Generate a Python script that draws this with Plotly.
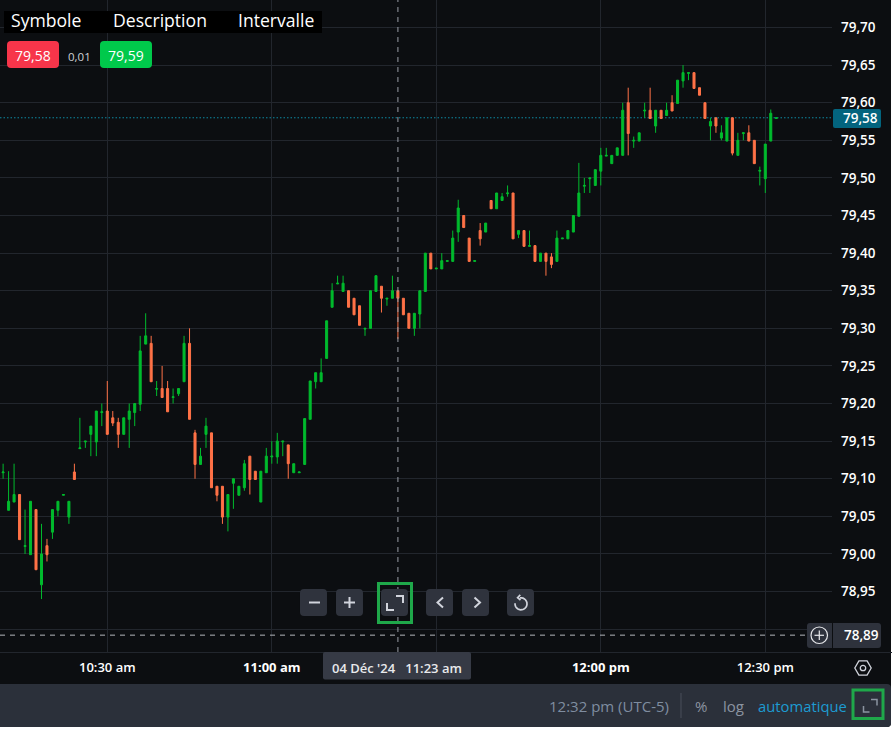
import numpy as np
import pandas as pd
import plotly.graph_objects as go

W, H = 892, 733

opens = [79.108,79.058,79.069,79.079,79.010,78.999,79.059,78.959,79.011,79.029,79.058,79.078,79.049,79.109,79.140,79.149,79.159,79.149,79.188,79.190,
         79.181,79.175,79.159,79.179,79.188,79.199,79.279,79.280,79.219,79.220,79.220,79.208,79.213,79.229,79.280,79.161,79.119,79.159,79.161,79.090,
         79.090,79.049,79.094,79.078,79.088,79.130,79.110,79.069,79.108,79.129,79.129,79.149,79.145,79.108,79.108,79.119,79.179,79.229,79.229,79.260,
         79.328,79.359,79.349,79.350,79.340,79.330,79.299,79.300,79.349,79.356,79.339,79.340,79.350,79.340,79.320,79.300,79.319,79.349,79.400,79.379,
         79.379,79.389,79.389,79.428,79.450,79.420,79.389,79.430,79.428,79.470,79.459,79.470,79.479,79.480,79.425,79.430,79.409,79.410,79.389,79.400,
         79.395,79.389,79.419,79.419,79.428,79.449,79.489,79.499,79.490,79.509,79.529,79.519,79.530,79.530,79.600,79.549,79.549,79.589,79.590,79.569,
         79.590,79.583,79.600,79.599,79.629,79.639,79.640,79.620,79.600,79.569,79.580,79.553,79.549,79.580,79.530,79.559,79.560,79.550,79.509,79.499,
         79.549,79.579]
highs = [79.120,79.110,79.120,79.079,79.059,79.070,79.059,79.040,79.020,79.059,79.070,79.079,79.070,79.120,79.181,79.150,79.170,79.190,79.200,79.230,
         79.190,79.181,79.181,79.200,79.200,79.290,79.320,79.290,79.230,79.250,79.230,79.220,79.220,79.290,79.300,79.165,79.141,79.181,79.161,79.090,
         79.090,79.079,79.100,79.090,79.125,79.130,79.110,79.110,79.141,79.150,79.161,79.150,79.145,79.120,79.109,79.180,79.230,79.241,79.260,79.310,
         79.360,79.370,79.370,79.350,79.340,79.330,79.300,79.350,79.370,79.356,79.340,79.370,79.350,79.340,79.320,79.320,79.350,79.400,79.400,79.380,
         79.400,79.390,79.430,79.471,79.450,79.420,79.390,79.440,79.440,79.470,79.480,79.480,79.490,79.480,79.430,79.430,79.430,79.410,79.400,79.400,
         79.400,79.430,79.420,79.430,79.450,79.520,79.500,79.500,79.511,79.540,79.540,79.530,79.540,79.600,79.620,79.555,79.560,79.600,79.620,79.590,
         79.590,79.600,79.610,79.630,79.650,79.640,79.640,79.620,79.600,79.580,79.580,79.570,79.580,79.580,79.560,79.560,79.570,79.550,79.515,79.545,
         79.591,79.580]
lows = [79.100,79.058,79.069,79.019,79.000,78.999,78.979,78.940,78.990,79.020,79.050,79.078,79.040,79.099,79.140,79.141,79.130,79.130,79.170,79.159,
        79.170,79.141,79.159,79.141,79.170,79.190,79.279,79.229,79.210,79.208,79.189,79.200,79.210,79.229,79.179,79.100,79.119,79.141,79.088,79.070,
        79.040,79.030,79.060,79.078,79.084,79.079,79.099,79.069,79.108,79.120,79.120,79.130,79.100,79.108,79.108,79.119,79.179,79.220,79.229,79.260,
        79.328,79.359,79.349,79.328,79.318,79.304,79.290,79.300,79.349,79.321,79.330,79.340,79.286,79.318,79.300,79.290,79.300,79.349,79.379,79.379,
        79.379,79.389,79.389,79.415,79.434,79.389,79.389,79.410,79.428,79.459,79.459,79.470,79.475,79.419,79.420,79.409,79.409,79.389,79.389,79.370,
        79.380,79.389,79.419,79.419,79.428,79.449,79.480,79.480,79.490,79.490,79.529,79.519,79.530,79.530,79.530,79.540,79.549,79.580,79.579,79.560,
        79.579,79.583,79.589,79.599,79.620,79.630,79.619,79.610,79.579,79.550,79.560,79.550,79.549,79.530,79.530,79.550,79.549,79.519,79.490,79.480,
        79.549,79.579]
closes = [79.109,79.070,79.079,79.019,79.011,79.070,78.979,79.000,78.999,79.059,79.070,79.079,79.070,79.099,79.141,79.150,79.170,79.190,79.189,79.159,
          79.174,79.159,79.181,79.190,79.200,79.270,79.290,79.229,79.220,79.208,79.189,79.209,79.220,79.280,79.179,79.119,79.130,79.170,79.088,79.078,
          79.049,79.079,79.100,79.090,79.120,79.099,79.099,79.110,79.130,79.130,79.150,79.150,79.120,79.120,79.109,79.180,79.230,79.241,79.241,79.310,
          79.350,79.360,79.360,79.328,79.318,79.304,79.300,79.350,79.370,79.340,79.340,79.350,79.340,79.318,79.300,79.320,79.350,79.400,79.379,79.380,
          79.390,79.390,79.420,79.460,79.434,79.389,79.390,79.419,79.440,79.459,79.480,79.475,79.480,79.419,79.430,79.409,79.410,79.389,79.400,79.389,
          79.385,79.420,79.420,79.430,79.450,79.480,79.490,79.500,79.511,79.530,79.530,79.530,79.540,79.590,79.559,79.550,79.560,79.590,79.579,79.590,
          79.579,79.590,79.589,79.630,79.640,79.640,79.619,79.610,79.579,79.575,79.569,79.560,79.580,79.533,79.550,79.560,79.549,79.519,79.510,79.545,
          79.586,79.580]
first_bar = "2024-12-04 10:11"
times = pd.date_range(first_bar, periods=len(opens), freq="min")
x_range = ["2024-12-04 10:10:26", "2024-12-04 12:42:10"]

price_ticks = [79.70,79.65,79.60,79.55,79.50,79.45,79.40,79.35,79.30,79.25,79.20,79.15,79.10,79.05,79.00,78.95,78.90]
price_labels = ["79,70","79,65","79,60","79,55","79,50","79,45","79,40","79,35","79,30","79,25","79,20","79,15","79,10","79,05","79,00","78,95",""]
time_ticks = ["2024-12-04 10:30","2024-12-04 11:00","2024-12-04 11:30","2024-12-04 12:00","2024-12-04 12:30"]
time_labels = ["10:30 am","<b>11:00 am</b>","","<b>12:00 pm</b>","12:30 pm"]
last_price = 79.58
cross_price = 78.892
cross_time = "2024-12-04 11:23"

BG = "#0c0e11"; GRID = "#22262d"; GREEN = "#00bb2d"; ORANGE = "#ff7247"
BTN = "#2f333d"; BAR = "#2b303a"; ICON = "#d1d4dc"; BOX = "#1fa84a"; FONT = "Open Sans"

def X(p): return p / W
def Y(p): return 1 - p / H

def rrect(x0, y0, x1, y1, r):
    pts = [("M", x0 + r, y0), ("L", x1 - r, y0), ("Q", x1, y0, x1, y0 + r), ("L", x1, y1 - r),
           ("Q", x1, y1, x1 - r, y1), ("L", x0 + r, y1), ("Q", x0, y1, x0, y1 - r), ("L", x0, y0 + r), ("Q", x0, y0, x0 + r, y0)]
    s = ""
    for p in pts:
        s += p[0] + " " + " ".join(f"{X(p[i]):.5f} {Y(p[i+1]):.5f}" for i in range(1, len(p), 2)) + " "
    return s + "Z"

def poly(points, close=False):
    s = " ".join(("M" if i == 0 else "L") + f" {X(a):.5f} {Y(b):.5f}" for i, (a, b) in enumerate(points))
    return s + (" Z" if close else "")

shapes = []
def fill_rr(x0, y0, x1, y1, r, color, layer="above"):
    shapes.append(dict(type="path", xref="paper", yref="paper", path=rrect(x0, y0, x1, y1, r),
                       fillcolor=color, line=dict(width=0), layer=layer))
def stroke(points, color=ICON, width=2, close=False):
    shapes.append(dict(type="path", xref="paper", yref="paper", path=poly(points, close),
                       line=dict(color=color, width=width), layer="above"))
def box(x0, y0, x1, y1, color=BOX, width=3):
    shapes.append(dict(type="rect", xref="paper", yref="paper", x0=X(x0), x1=X(x1), y0=Y(y0), y1=Y(y1),
                       line=dict(color=color, width=width), layer="above"))

# window background
fill_rr(-6, -6, 891, 727, 4, BG, layer="below")
fill_rr(-6, 684, 891, 727, 4, BAR, layer="below")
# separating line below the plot
shapes.append(dict(type="line", xref="paper", yref="paper", x0=0, x1=1, y0=Y(652.5), y1=Y(652.5),
                   line=dict(color=GRID, width=1), layer="below"))
# last price line
shapes.append(dict(type="line", xref="x", yref="y", x0=x_range[0], x1=x_range[1], y0=last_price, y1=last_price,
                   line=dict(color="#0e8aa3", width=1, dash="1.5px,2px"), layer="between"))
# crosshair
shapes.append(dict(type="line", xref="x", yref="paper", x0=cross_time, x1=cross_time, y0=Y(652), y1=1,
                   line=dict(color="#9a9da6", width=1, dash="5px,5px"), layer="above"))
shapes.append(dict(type="line", xref="paper", yref="y", x0=0, x1=X(807), y0=cross_price, y1=cross_price,
                   line=dict(color="#b4b6bc", width=1, dash="5px,5px"), layer="above"))
# header
shapes.append(dict(type="rect", xref="paper", yref="paper", x0=X(4), x1=X(322), y0=Y(11), y1=Y(33),
                   fillcolor="#000000", line=dict(width=0), layer="above"))
fill_rr(7, 41, 59, 68, 4, "#f7354a")
fill_rr(100, 41, 152, 68, 4, "#00c94b")
# zoom buttons
for a, b in [(300, 327), (336, 363), (381, 408), (426, 453), (462, 489), (507, 534)]:
    fill_rr(a, 589, b, 616, 4, BTN)
box(378.5, 583.5, 411.5, 622.5)
stroke([(309, 602.5), (320, 602.5)])
stroke([(344, 602.5), (355, 602.5)])
stroke([(349.5, 597), (349.5, 608)])
stroke([(396, 596), (403, 596), (403, 603)])
stroke([(387, 603), (387, 610), (394, 610)])
stroke([(443, 597.5), (437.5, 602.5), (443, 607.5)])
stroke([(474.5, 597.5), (480, 602.5), (474.5, 607.5)])
ang = np.radians(np.arange(-100, 195, 15))
stroke([(521 + 6 * np.cos(t), 603.8 + 6 * np.sin(t)) for t in ang], width=1.7)
stroke([(520.3, 594.8), (517.6, 597.6), (520.5, 600)], width=1.7)
# crosshair time tag
fill_rr(323, 652, 471, 679.5, 2, "#363a45")
# price tags
fill_rr(833, 109, 881, 128, 2, "#03647e")
fill_rr(807, 623, 881, 648, 3, "#2e323c")
shapes.append(dict(type="line", xref="paper", yref="paper", x0=X(832.5), x1=X(832.5), y0=Y(623), y1=Y(648),
                   line=dict(color=BG, width=1), layer="above"))
shapes.append(dict(type="circle", xref="paper", yref="paper", x0=X(811), x1=X(827.5), y0=Y(627), y1=Y(643.5),
                   line=dict(color="#e6e7ea", width=1.2), layer="above"))
stroke([(814.5, 635.3), (824, 635.3)], "#e6e7ea", 1.2)
stroke([(819.3, 630.5), (819.3, 640)], "#e6e7ea", 1.2)
# hexagon settings icon
ang = np.radians(np.arange(0, 360, 60))
stroke([(863 + 8.2 * np.cos(t), 668 + 8.2 * np.sin(t)) for t in ang], ICON, 1.3, close=True)
shapes.append(dict(type="circle", xref="paper", yref="paper", x0=X(860.3), x1=X(865.7), y0=Y(665.3), y1=Y(670.7),
                   line=dict(color=ICON, width=1.3), layer="above"))
# bottom bar
stroke([(681, 693), (681, 718)], "#444a55", 1.2)
box(853, 690, 883, 718.5)
stroke([(871, 699.5), (877, 699.5), (877, 705.5)], "#8b94a1", 1.5)
stroke([(863.5, 706), (863.5, 712), (869.5, 712)], "#8b94a1", 1.5)

annotations = []
def text(x, y, s, color="#ffffff", size=13, anchor="left", weight=None):
    f = dict(family=FONT, size=size, color=color)
    if weight: f["weight"] = weight
    annotations.append(dict(xref="paper", yref="paper", x=X(x), y=Y(y), text=s, showarrow=False,
                            xanchor=anchor, yanchor="middle", font=f, borderpad=0, borderwidth=0))

text(11, 19.5, "Symbole", size=17.6)
text(113, 19.5, "Description", size=17.6)
text(238, 19.5, "Intervalle", size=17.6)
text(33, 55, "79,58", size=14, anchor="center")
text(79, 56, "0,01", "#d0d2d6", 11.5, "center")
text(126, 55, "79,59", size=14, anchor="center")
text(397, 667.5, "04 Déc '24   11:23 am", "#e8e9ec", 13, "center", 600)
text(860.5, 118, "79,58", "#ffffff", 13.5, "center", 600)
text(861, 635, "78,89", "#ffffff", 13.5, "center", 600)
text(609, 706, "12:32 pm (UTC-5)", "#7f8da0", 15, "center")
text(701, 706, "%", "#8b94a1", 15, "center")
text(733, 706, "log", "#8b94a1", 15, "center")
text(802, 706, "automatique", "#1d9bd1", 14.8, "center")

fig = go.Figure(go.Candlestick(
    x=times, open=opens, high=highs, low=lows, close=closes,
    increasing=dict(line=dict(color=GREEN, width=1), fillcolor=GREEN),
    decreasing=dict(line=dict(color=ORANGE, width=1), fillcolor=ORANGE),
    whiskerwidth=0, showlegend=False,
))
fig.update_layout(
    width=W, height=H, margin=dict(l=0, r=0, t=0, b=0, autoexpand=False),
    paper_bgcolor="#ffffff", plot_bgcolor=BG, showlegend=False, hovermode=False,
    boxgap=0.63, boxgroupgap=0,
    shapes=shapes, annotations=annotations,
    xaxis=dict(domain=[0, 832 / W], type="date",
               range=x_range,
               rangeslider=dict(visible=False), tickmode="array", tickvals=time_ticks, ticktext=time_labels,
               tickfont=dict(family=FONT, size=13, color="#ffffff", weight=600), showgrid=True, gridcolor=GRID, gridwidth=1,
               zeroline=False, showline=False, ticks="", ticklabelstandoff=6),
    yaxis=dict(domain=[1 - 652 / H, 1], range=[78.8696, 79.7366], side="right", tickmode="array",
               tickvals=price_ticks, ticktext=price_labels,
               tickfont=dict(family=FONT, size=13.5, color="#ffffff", weight=600), showgrid=True, gridcolor=GRID, gridwidth=1,
               zeroline=False, showline=False, ticks="", ticklabelstandoff=8),
)
fig.write_html("out.html", config=dict(displayModeBar=False),
               post_script="document.body.style.margin='0';document.body.style.overflow='hidden';")
